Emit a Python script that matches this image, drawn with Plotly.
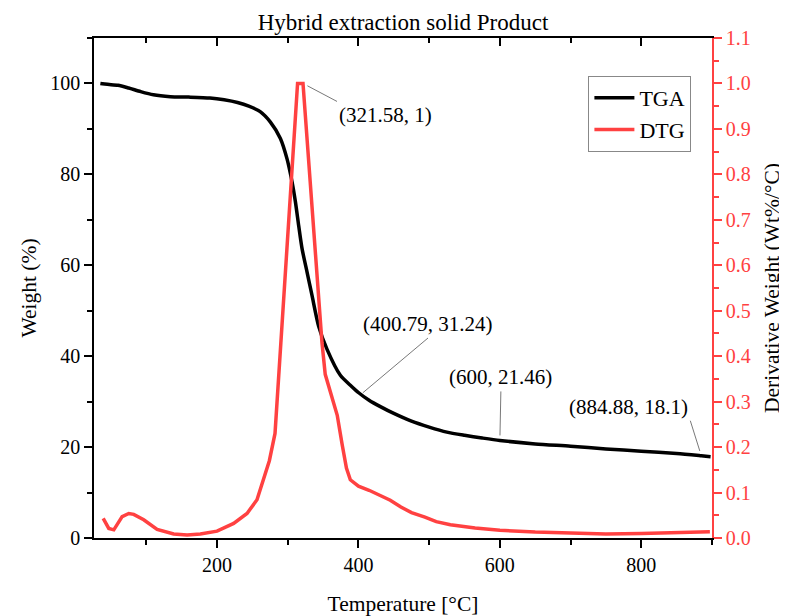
import plotly.graph_objects as go

# ---- data ----
tga_temp = [35, 45, 60, 75, 92, 110, 134, 160, 190, 210, 229, 245, 261, 275.5, 289.6, 299, 306,
            310.8, 315.5, 320.3, 327.3, 334.4, 343.7, 355.6, 374.4, 390, 400.79, 415, 431, 450,
            475, 500, 525, 550, 575, 600, 650, 700, 750, 800, 850, 884.88, 898]
tga_weight = [100, 99.8, 99.6, 99.0, 98.2, 97.5, 97.1, 97.0, 96.8, 96.4, 95.8, 95.0, 93.8, 91.5,
              87.9, 83.4, 78.4, 74, 68.7, 63.6, 58.5, 53.3, 46.6, 41.5, 35.8, 33.4, 31.9, 30.3,
              28.9, 27.4, 25.7, 24.4, 23.3, 22.6, 22.0, 21.46, 20.7, 20.2, 19.6, 19.1, 18.6,
              18.1, 17.9]

dtg_temp = [39, 46.9, 54, 65.8, 75.2, 82.2, 96.3, 115.3, 138.7, 157.7, 176.4, 200, 223.5, 242.4,
            256.5, 265.9, 274, 282, 313.9, 321.58, 331.8, 341.3, 348.4, 353, 360, 370, 377, 383,
            388.5, 400, 415, 430, 445, 460, 475, 494, 510, 530, 565, 600, 650, 700, 750, 800,
            850, 897]
dtg_value = [0.043, 0.021, 0.018, 0.047, 0.054, 0.052, 0.040, 0.019, 0.009, 0.0066, 0.0088,
             0.015, 0.032, 0.054, 0.084, 0.128, 0.17, 0.23, 1.0, 1.0, 0.79, 0.57, 0.43, 0.36,
             0.32, 0.27, 0.205, 0.154, 0.128, 0.114, 0.105, 0.095, 0.083, 0.068, 0.056, 0.046,
             0.036, 0.029, 0.022, 0.017, 0.013, 0.011, 0.009, 0.010, 0.012, 0.014]

annot_x = [321.58, 400.79, 600, 884.88]
annot_y = [1, 31.24, 21.46, 18.1]
annot_text = ["(321.58, 1)", "(400.79, 31.24)", "(600, 21.46)", "(884.88, 18.1)"]
annot_axis = ["y2", "y", "y", "y"]

x_range = [26, 900]
y_range = [0, 110]
y2_range = [0, 1.1]

RED = "#FF4141"
FONT = "Liberation Serif"
W, H = 779, 608

fig = go.Figure()
fig.add_trace(go.Scatter(x=tga_temp, y=tga_weight, name="TGA", mode="lines",
                         line=dict(color="black", width=3.5, shape="spline", smoothing=0.7)))
fig.add_trace(go.Scatter(x=dtg_temp, y=dtg_value, name="DTG", mode="lines", yaxis="y2",
                         line=dict(color=RED, width=3.5)))
# invisible helper trace so the top (mirror) axis is drawn
fig.add_trace(go.Scatter(x=tga_temp, y=tga_weight, xaxis="x2", mode="lines",
                         line=dict(color="rgba(0,0,0,0)"), showlegend=False, hoverinfo="skip"))

# annotations: offsets/anchors for label placement
offsets = [(34, 18, "left", "top"), (69, -58, "center", "bottom"),
           (1, -49, "center", "bottom"), (-11, -35, "right", "bottom")]
for xv, yv, tx, ya, (ax, ay, xa, yan) in zip(annot_x, annot_y, annot_text, annot_axis, offsets):
    fig.add_annotation(x=xv, y=yv, xref="x", yref=ya, text=tx, showarrow=True,
                       arrowhead=0, arrowwidth=0.8, arrowcolor="#555555",
                       ax=ax, ay=ay, axref="pixel", ayref="pixel",
                       xanchor=xa, yanchor=yan, standoff=5,
                       font=dict(family=FONT, size=21, color="black"))

fig.update_layout(
    width=W, height=H,
    margin=dict(l=86, r=75, t=30, b=78),
    paper_bgcolor="white", plot_bgcolor="white",
    font=dict(family=FONT, size=20, color="black"),
    title=dict(text="Hybrid extraction solid Product", x=0.5, xref="paper", xanchor="center",
               y=1 - 14 / H, yref="container", yanchor="middle",
               font=dict(family=FONT, size=23, color="black")),
    showlegend=True,
    legend=dict(x=0.80, y=0.924, xanchor="left", yanchor="top", bgcolor="white",
                bordercolor="#888888", borderwidth=1,
                font=dict(family=FONT, size=22, color="black"),
                tracegroupgap=0, itemwidth=40),
    xaxis=dict(range=x_range, showgrid=False, zeroline=False, showline=True, linecolor="black",
               linewidth=1.5, ticks="outside", ticklen=8, tickwidth=1.5, tickcolor="black",
               dtick=200, tick0=0, automargin=False,
               minor=dict(ticks="outside", ticklen=5, dtick=100, tick0=0, tickcolor="black",
                          tickwidth=1.5, showgrid=False),
               title=dict(text="Temperature [°C]", standoff=21,
                          font=dict(family=FONT, size=21.5)),
               tickfont=dict(family=FONT, size=20)),
    xaxis2=dict(range=x_range, overlaying="x", side="top", anchor="y", showgrid=False,
                zeroline=False, showline=True, linecolor="black", linewidth=1.5,
                ticks="inside", ticklen=8, tickwidth=1.5, tickcolor="black", dtick=200, tick0=0,
                showticklabels=False, automargin=False,
                minor=dict(ticks="inside", ticklen=5, dtick=100, tick0=0, tickcolor="black",
                           tickwidth=1.5, showgrid=False)),
    yaxis=dict(range=y_range, showgrid=False, zeroline=False, showline=True, linecolor="black",
               linewidth=1.5, ticks="outside", ticklen=8, tickwidth=1.5, tickcolor="black",
               dtick=20, tick0=0, automargin=False,
               minor=dict(ticks="outside", ticklen=5, dtick=10, tick0=0, tickcolor="black",
                          tickwidth=1.5, showgrid=False),
               title=dict(text="Weight (%)", standoff=8, font=dict(family=FONT, size=21.5)),
               tickfont=dict(family=FONT, size=20)),
    yaxis2=dict(range=y2_range, overlaying="y", side="right", anchor="x", showgrid=False,
                zeroline=False, showline=True, linecolor=RED, linewidth=1.5,
                ticks="outside", ticklen=8, tickwidth=1.5, tickcolor=RED, dtick=0.1, tick0=0,
                tickformat=".1f", automargin=False,
                minor=dict(ticks="outside", ticklen=5, dtick=0.05, tick0=0, tickcolor=RED,
                           tickwidth=1.5, showgrid=False),
                tickfont=dict(family=FONT, size=20, color=RED),
                title=dict(text="Derivative Weight (Wt%/°C)", standoff=14,
                           font=dict(family=FONT, size=21.5, color="black"))),
)

fig.write_html("out.html")
